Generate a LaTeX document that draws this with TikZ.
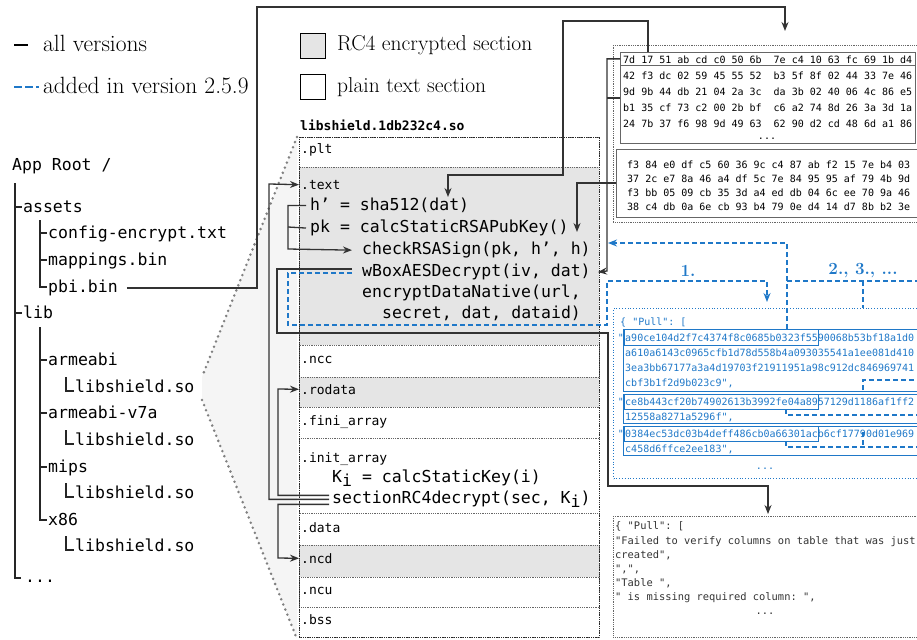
\documentclass[tikz,border=0pt]{standalone}
\usepackage{fontspec}
\setmonofont{DejaVu Sans Mono}
\usetikzlibrary{arrows.meta}

\definecolor{addblue}{RGB}{31,120,200}
\definecolor{encgray}{RGB}{229,229,229}
\definecolor{funnelgray}{RGB}{245,245,245}

\newcommand{\codefont}{\ttfamily\fontsize{16.5}{18}\selectfont}
\newcommand{\secfont}{\ttfamily\fontsize{13}{15}\selectfont}
\newcommand{\hexfont}{\ttfamily\fontsize{10}{12}\selectfont}
\newcommand{\subi}{\raisebox{-4pt}{i}}

\begin{document}
\begin{tikzpicture}[x=1pt, y=-1pt,
    every node/.style={inner sep=0pt},
    code/.style={font=\codefont, anchor=mid west, yshift=-3.5pt},
    sec/.style={font=\secfont, anchor=mid west, yshift=-3pt},
    hex/.style={font=\hexfont, anchor=mid west, yshift=-2.5pt},
    blu/.style={hex, text=addblue},
    plainj/.style={font=\ttfamily\fontsize{10.4}{12}\selectfont, anchor=mid west, yshift=-2.5pt, text=black!80},
    leg/.style={font=\fontsize{23.5}{28}\selectfont, anchor=mid west, yshift=-4pt},
    boxleg/.style={leg, font=\fontsize{21.5}{26}\selectfont},
    steplabel/.style={font=\bfseries\fontsize{17}{20}\selectfont, text=addblue, yshift=-2pt},
    tree/.style={draw=black!85, line width=1.1pt},
    wire/.style={draw=black!80, line width=1.3pt},
    flow/.style={wire, -{Stealth[length=9pt,width=7pt]}},
    newflow/.style={draw=addblue, line width=1.3pt, dash pattern=on 5pt off 3pt},
    newarr/.style={newflow, -{Stealth[length=9pt,width=7pt]}},
    secline/.style={draw=black!60, densely dotted, line width=0.8pt},
    hexbox/.style={draw=black!60, line width=0.8pt, anchor=north west},
    dotbox/.style={draw=black!60, densely dotted, line width=0.8pt, anchor=north west},
    jbox/.style={draw=addblue, line width=0.9pt, anchor=north west},
    funneldots/.style={draw=black!50, line width=2.8pt, line cap=round, dash pattern=on 0pt off 5.5pt},
  ]
    \useasboundingbox (0,0) rectangle (917,639);

    % Legend
    \draw[line width=2.4pt] (14,45) -- (28,45);
    \node[leg] (lall) at (43,45) {all versions};
    \draw[newflow, line width=2.4pt, dash pattern=on 8pt off 3pt] (14,87) -- (39,87);
    \node[leg] (ladd) at (43,87) {added in version 2.5.9};
    \node[draw, line width=1pt, fill=encgray, minimum size=25pt, anchor=north west] (lenc) at (300,33) {};
    \node[boxleg] at (337,44) {RC4 encrypted section};
    \node[draw, line width=1pt, minimum size=25pt, anchor=north west] (lplain) at (300,74) {};
    \node[boxleg] at (337,86) {plain text section};

    % App root tree
    \node[code] (root) at (12,165) {App Root /};
    \node[code] (assets) at (23,207) {assets};
    \node[code] (cfg) at (48,233) {config-encrypt.txt};
    \node[code] (map) at (48,260) {mappings.bin};
    \node[code] (pbi) at (48,287) {pbi.bin};
    \node[code] (lib) at (23,313) {lib};
    \node[code] (arm) at (48,360) {armeabi};
    \node[code] (armso) at (75,387) {libshield.so};
    \node[code] (v7a) at (48,413) {armeabi-v7a};
    \node[code] (v7aso) at (75,440) {libshield.so};
    \node[code] (mips) at (48,467) {mips};
    \node[code] (mipsso) at (75,493) {libshield.so};
    \node[code] (x86) at (48,520) {x86};
    \node[code] (x86so) at (75,546) {libshield.so};
    \node[code] (more) at (25,577) {...};

    \draw[tree] (15,183) -- (15,578) -- (21,578);
    \foreach \y in {207,313} \draw[tree] (15,\y) -- (22,\y);
    \draw[tree] (40,220) -- (40,287) -- (47,287);
    \foreach \y in {233,260} \draw[tree] (40,\y) -- (47,\y);
    \draw[tree] (40,327) -- (40,520) -- (47,520);
    \foreach \y in {360,413,467} \draw[tree] (40,\y) -- (47,\y);
    \foreach \y in {387,440,493,546} \draw[tree] (66,\y-10) -- (66,\y+4) -- (74,\y+4);

    % Zoom funnel onto the library
    \fill[funnelgray] (297,137) -- (202,377) -- (202,400) -- (297,639) -- cycle;
    \draw[funneldots] (297,137) -- (202,377);
    \draw[funneldots] (202,400) -- (297,639);

    % Sections of libshield
    \node[font=\secfont\bfseries, anchor=mid west, yshift=-3pt] (soname) at (300,125) {libshield.1db232c4.so};
    \foreach \top/\bot/\name/\lab/\ly/\col in {
        137/167/plt/.plt/148/white, 167/345/txt/.text/184/encgray,
        345/377/ncc/.ncc/358/white, 377/407/rodata/.rodata/389/encgray,
        407/438/fini/.fini\_array/420/white, 438/513/init/.init\_array/457/white,
        513/545/data/.data/527/white, 545/577/ncd/.ncd/558/encgray,
        577/607/ncu/.ncu/589/white, 607/637/bss/.bss/619/white} {
      \draw[secline, fill=\col] (299,\top) rectangle (599,\bot);
      \node[sec] (\name) at (301,\ly) {\lab};
    }
    \draw[secline, draw=black!85] (299,137) rectangle (599,637);

    % Code in .text
    \node[code] (hh) at (310,205) {h’ = sha512(dat)};
    \node[code] (pk) at (310,227) {pk = calcStaticRSAPubKey()};
    \node[code] (chk) at (362,249) {checkRSASign(pk, h’, h)};
    \node[code] (wbox) at (362,271) {wBoxAESDecrypt(iv, dat)};
    \node[code] (enc) at (362,292) {encryptDataNative(url,};
    \node[code] (enc2) at (382,313) {secret, dat, dataid)};

    % Code in .init_array
    \node[code] (ki) at (332,477) {K\subi{} = calcStaticKey(i)};
    \node[code] (rc4) at (332,498) {sectionRC4decrypt(sec, K\subi)};

    % pbi.bin dump
    \node[dotbox, minimum width=306pt, minimum height=177pt] (dump) at (613,45) {};
    \node[hexbox, minimum width=295pt, minimum height=13pt] (ivrow) at (620,52) {};
    \node[hexbox, minimum width=295pt, minimum height=78pt] (datbox) at (620,65) {};
    \node[hexbox, minimum width=302pt, minimum height=68pt] (sigbox) at (616,149) {};
    \node[hex] (h0) at (623,59) {7d 17 51 ab cd c0 50 6b\ \ 7e c4 10 63 fc 69 1b d4};
    \node[hex] (h1) at (623,75) {42 f3 dc 02 59 45 55 52\ \ b3 5f 8f 02 44 33 7e 46};
    \node[hex] (h2) at (623,91) {9d 9b 44 db 21 04 2a 3c\ \ da 3b 02 40 06 4c 86 e5};
    \node[hex] (h3) at (623,107) {b1 35 cf 73 c2 00 2b bf\ \ c6 a2 74 8d 26 3a 3d 1a};
    \node[hex] (h4) at (623,123) {24 7b 37 f6 98 9d 49 63\ \ 62 90 d2 cd 48 6d a1 86};
    \node[hex, anchor=center] (h5) at (767,136) {...};
    \node[hex] (g0) at (627,164) {f3 84 e0 df c5 60 36 9c c4 87 ab f2 15 7e b4 03};
    \node[hex] (g1) at (627,178) {37 2c e7 8a 46 a4 df 5c 7e 84 95 95 af 79 4b 9d};
    \node[hex] (g2) at (627,192) {f3 bb 05 09 cb 35 3d a4 ed db 04 6c ee 70 9a 46};
    \node[hex] (g3) at (627,206) {38 c4 db 0a 6e cb 93 b4 79 0e d4 14 d7 8b b2 3e};

    % JSON added in 2.5.9
    \node[dotbox, draw=addblue, dotted, line width=1pt, minimum width=306pt, minimum height=170pt] (pull) at (613,308) {};
    \node[blu] (pullhead) at (620,321) {\{ "Pull": [};
    \node[jbox, minimum width=294pt, minimum height=62pt] (s1) at (623,329) {};
    \node[jbox, minimum width=194pt, minimum height=16pt] (iv1) at (624,329) {};
    \node[blu, anchor=mid east] at (624,337) {"};
    \node[blu] (s1a) at (625,337) {a90ce104d2f7c4374f8c0685b0323f5590068b53bf18a1d0};
    \node[blu] (s1b) at (625,352) {a610a6143c0965cfb1d78d558b4a093035541a1ee081d410};
    \node[blu] (s1c) at (625,367) {3ea3bb67177a3a4d19703f21911951a98c912dc846969741};
    \node[blu] (s1d) at (625,382) {cbf3b1f2d9b023c9",};
    \node[jbox, minimum width=294pt, minimum height=29pt] (s2) at (623,394) {};
    \node[jbox, minimum width=194pt, minimum height=15pt] (iv2) at (624,394) {};
    \node[blu, anchor=mid east] at (624,401) {"};
    \node[blu] (s2a) at (625,401) {ce8b443cf20b74902613b3992fe04a8957129d1186af1ff2};
    \node[blu] (s2b) at (625,416) {12558a8271a5296f",};
    \node[jbox, minimum width=294pt, minimum height=29pt] (s3) at (623,426) {};
    \node[jbox, minimum width=194pt, minimum height=15pt] (iv3) at (624,426) {};
    \node[blu, anchor=mid east] at (624,433) {"};
    \node[blu] (s3a) at (625,433) {0384ec53dc03b4deff486cb0a66301acb6cf17790d01e969};
    \node[blu] (s3b) at (625,448) {c458d6ffce2ee183",};
    \node[blu, anchor=center] (pulldots) at (765,466) {...};

    % Decrypted JSON
    \node[dotbox, minimum width=306pt, minimum height=121pt] (plain) at (613,516) {};
    \node[plainj] (q0) at (615,525) {\{ "Pull": [};
    \node[plainj] (q1) at (615,540) {"Failed to verify columns on table that was just};
    \node[plainj] (q2) at (615,554) {created",};
    \node[plainj] (q3) at (615,568) {",",};
    \node[plainj] (q4) at (615,582) {"Table ",};
    \node[plainj] (q5) at (615,596) {"\ is missing required column: ",};
    \node[plainj, anchor=center] (q6) at (765,611) {...};

    % Connectors, all versions
    \coordinate (dumpin) at (785,31);
    \draw[flow] ([xshift=9pt]pbi.east) -| (257,7) -| (dumpin);
    \coordinate (datsrc) at (648,52);
    \coordinate (shadat) at (448,197);
    \draw[flow] (datsrc) |- (563,21) |- (448,175) -- (shadat);
    \coordinate (chkh) at (577,232);
    \draw[flow] (sigbox.west |- 0,183) -| (chkh);
    \draw[flow] (ivrow.west) -| (607,271) -- ([xshift=7pt]wbox.east);
    \draw[wire] (datbox.west |- 0,98) -- (607,98);
    \draw[flow] ([xshift=-4pt]hh.west) -| (288,249) -- ([xshift=-10pt]chk.west);
    \draw[wire] ([xshift=-4pt]pk.west) -- (288,227);
    \coordinate (plainin) at (768,514);
    \draw[flow] ([xshift=-10pt,yshift=3pt]wbox.west) -| (277,333) -| (608,486) -| (plainin);
    \draw[flow] ([xshift=-3pt,yshift=4pt]rc4.west) -| (278,389) -- ([xshift=-2pt]rodata.west);
    \draw[flow] ([xshift=-3pt]rc4.west) -| (269,184) -- ([xshift=-2pt]txt.west);
    \draw[flow] ([xshift=-3pt,yshift=-5pt]rc4.west) -| (278,558) -- ([xshift=-2pt]ncd.west);

    % Connectors, added in 2.5.9
    \coordinate (ivtap) at (787,329);
    \draw[newarr] (ivtap) |- (608,243);
    \coordinate (pullin) at (767,302);
    \draw[newarr] ([xshift=-10pt,yshift=20pt]enc.west) -| (288,325) -| (607,281) -| (pullin);
    \node[steplabel] (one) at (688,269) {1.};
    \node[steplabel] (next) at (863,269) {2., 3., ...};
    \draw[newflow] (787,281) -- (917,281);
    \draw[newflow] (863,281) -- (863,308);
    \draw[newflow] (863,390) -- (863,380) -- (917,380);
    \draw[newflow] (786,409) -- (786,415) -- (917,415);
    \draw[newflow] (786,441) -- (786,447) -- (917,447);
    \draw[newflow] (863,432) -- (863,447);
\end{tikzpicture}
\end{document}
